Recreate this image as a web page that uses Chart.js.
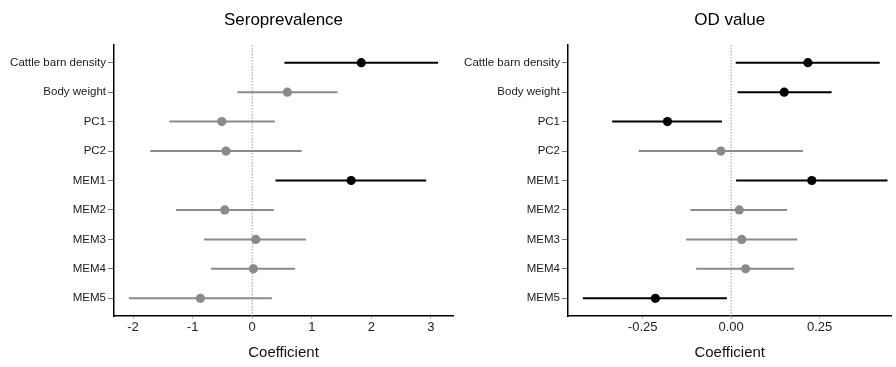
<!DOCTYPE html>
<html>
<head>
<meta charset="utf-8">
<script src="https://cdn.jsdelivr.net/npm/chart.js@4.4.1/dist/chart.umd.min.js"></script>
<style>
  html, body { margin: 0; padding: 0; background: #fff; }
  #wrap { position: relative; width: 896px; height: 367px; overflow: hidden; }
  canvas { position: absolute; top: 0; }
</style>
</head>
<body>
<div id="wrap">
  <canvas id="c1" width="460" height="367" style="left:0"></canvas>
  <canvas id="c2" width="436" height="367" style="left:460px"></canvas>
</div>
<script>
// ---- data ----
const categories = ['Cattle barn density', 'Body weight', 'PC1', 'PC2', 'MEM1', 'MEM2', 'MEM3', 'MEM4', 'MEM5'];

const seroEst = [1.83, 0.59, -0.51, -0.44, 1.66, -0.46, 0.06, 0.02, -0.87];
const seroLow = [0.54, -0.25, -1.39, -1.71, 0.39, -1.28, -0.81, -0.69, -2.07];
const seroHigh = [3.12, 1.43, 0.38, 0.83, 2.92, 0.36, 0.90, 0.72, 0.33];
const seroTicks = [-2, -1, 0, 1, 2, 3];
const seroTickLabels = ['-2', '-1', '0', '1', '2', '3'];

const odEst = [0.217, 0.150, -0.180, -0.029, 0.228, 0.023, 0.030, 0.041, -0.214];
const odLow = [0.013, 0.018, -0.336, -0.261, 0.014, -0.115, -0.127, -0.099, -0.419];
const odHigh = [0.420, 0.284, -0.026, 0.203, 0.442, 0.158, 0.187, 0.178, -0.012];
const odTicks = [-0.25, 0, 0.25];
const odTickLabels = ['-0.25', '0.00', '0.25'];

const titles = ['Seroprevalence', 'OD value'];
const xTitle = 'Coefficient';

// ---- styling ----
const FONT = "'Liberation Sans', Arial, sans-serif";
const SIG = '#000000';
const NONSIG = '#8a8a8a';

function panelTitle(text) {
  return {
    id: 'panelTitle',
    afterDraw(chart) {
      const ctx = chart.ctx;
      const a = chart.chartArea;
      ctx.save();
      ctx.font = '17px ' + FONT;
      ctx.fillStyle = '#000';
      ctx.textAlign = 'center';
      ctx.textBaseline = 'alphabetic';
      ctx.fillText(text, (a.left + a.right) / 2, 25);
      ctx.restore();
    }
  };
}

function makeChart(id, title, est, low, high, xmin, xmax, ticks, tickLabels, yWidth, padRight) {
  const datasets = [];
  // zero reference line
  datasets.push({
    data: [{x: 0, y: 0.4}, {x: 0, y: 9.6}],
    showLine: true,
    borderColor: '#9a9a9a',
    borderWidth: 1,
    borderDash: [1.5, 1.5],
    pointRadius: 0,
    order: 3
  });
  const colors = est.map((v, i) => (low[i] > 0 || high[i] < 0) ? SIG : NONSIG);
  categories.forEach((c, i) => {
    datasets.push({
      data: [{x: low[i], y: i + 1}, {x: high[i], y: i + 1}],
      showLine: true,
      borderColor: colors[i],
      borderWidth: 2,
      pointRadius: 0,
      order: 2
    });
  });
  datasets.push({
    data: est.map((v, i) => ({x: v, y: i + 1})),
    pointRadius: 4.6,
    pointBackgroundColor: colors,
    pointBorderWidth: 0,
    showLine: false,
    order: 1
  });

  return new Chart(document.getElementById(id), {
    type: 'scatter',
    data: { datasets },
    plugins: [panelTitle(title)],
    options: {
      responsive: false,
      animation: false,
      devicePixelRatio: 1,
      layout: { padding: { top: 45, right: padRight, bottom: 0, left: 0 } },
      plugins: { legend: { display: false }, tooltip: { enabled: false }, title: { display: false } },
      scales: {
        x: {
          type: 'linear',
          min: xmin,
          max: xmax,
          afterBuildTicks: s => { s.ticks = ticks.map(v => ({ value: v })); },
          afterFit: s => { s.height = 51; },
          ticks: {
            callback: (v) => tickLabels[ticks.indexOf(v)],
            font: { family: FONT, size: 13 },
            color: '#222',
            padding: 1,
            maxRotation: 0,
            autoSkip: false
          },
          grid: { display: true, drawOnChartArea: false, drawTicks: true, tickLength: 3, color: '#bbbbbb', lineWidth: 1 },
          border: { display: true, color: '#000', width: 1.5 },
          title: {
            display: true,
            text: xTitle,
            font: { family: FONT, size: 15 },
            color: '#111',
            padding: { top: 0, bottom: 5 }
          }
        },
        y: {
          type: 'linear',
          reverse: true,
          min: 0.4,
          max: 9.6,
          afterBuildTicks: s => { s.ticks = categories.map((c, i) => ({ value: i + 1 })); },
          afterFit: s => { s.width = yWidth; },
          ticks: {
            callback: (v) => categories[v - 1],
            font: { family: FONT, size: 11.5 },
            color: '#1a1a1a',
            padding: 2,
            autoSkip: false
          },
          grid: { display: true, drawOnChartArea: false, drawTicks: true, tickLength: 6, color: '#777', lineWidth: 1 },
          border: { display: true, color: '#000', width: 1.5 }
        }
      }
    }
  });
}

makeChart('c1', titles[0], seroEst, seroLow, seroHigh, -2.32, 3.37, seroTicks, seroTickLabels, 114, 7);
makeChart('c2', titles[1], odEst, odLow, odHigh, -0.461, 0.453, odTicks, odTickLabels, 108, 0);
</script>
</body>
</html>
